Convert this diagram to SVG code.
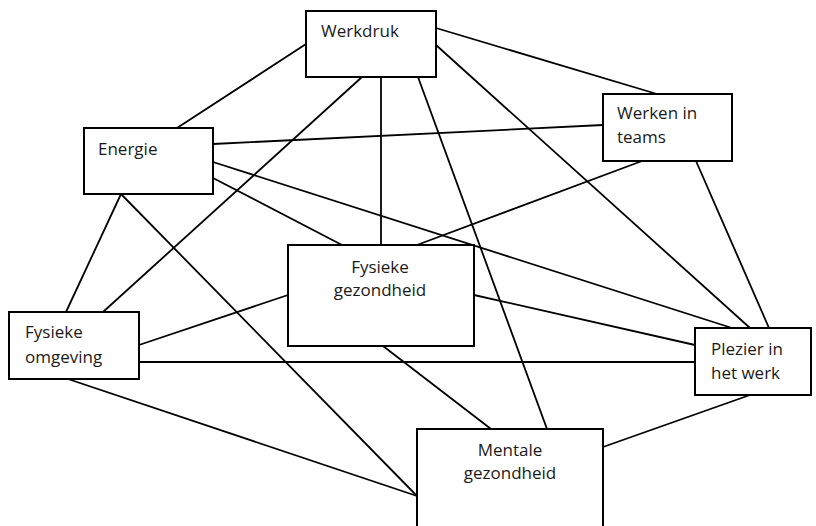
<svg xmlns="http://www.w3.org/2000/svg" width="816" height="526" viewBox="0 0 816 526">
  <style>
    .box { fill: #ffffff; stroke: #000000; stroke-width: 2; }
    .link { stroke: #000000; stroke-width: 1.8; fill: none; }
    .label { font-family: "Open Sans", "Liberation Sans", sans-serif; font-size: 17px; fill: #1a1a1a; }
    .mid { text-anchor: middle; }
  </style>
  <rect width="816" height="526" fill="#ffffff"/>

  <!-- connectors -->
  <g id="connectors">
    <line class="link" x1="306" y1="44" x2="177" y2="128"/>
    <line class="link" x1="436" y1="28" x2="657" y2="94"/>
    <line class="link" x1="362" y1="77" x2="103" y2="312"/>
    <line class="link" x1="381" y1="77" x2="381" y2="245"/>
    <line class="link" x1="418" y1="77" x2="547" y2="429"/>
    <line class="link" x1="436" y1="45" x2="750" y2="328"/>
    <line class="link" x1="213" y1="144" x2="603" y2="125"/>
    <line class="link" x1="213" y1="162" x2="732" y2="328"/>
    <line class="link" x1="213" y1="178" x2="342" y2="245"/>
    <line class="link" x1="121" y1="194" x2="66" y2="312"/>
    <line class="link" x1="121" y1="194" x2="417" y2="496"/>
    <line class="link" x1="642" y1="161" x2="417" y2="245"/>
    <line class="link" x1="696" y1="161" x2="769" y2="328"/>
    <line class="link" x1="288" y1="295" x2="139" y2="345"/>
    <line class="link" x1="474" y1="295" x2="695" y2="345"/>
    <line class="link" x1="383" y1="346" x2="491" y2="429"/>
    <line class="link" x1="139" y1="362" x2="695" y2="362"/>
    <line class="link" x1="68" y1="379" x2="417" y2="496"/>
    <line class="link" x1="750" y1="395" x2="603" y2="447"/>
  </g>

  <g id="werkdruk">
    <rect class="box" x="306" y="11" width="130" height="66"/>
    <text class="label" x="321" y="37">Werkdruk</text>
  </g>

  <g id="energie">
    <rect class="box" x="84" y="128" width="129" height="66"/>
    <text class="label" x="98" y="155">Energie</text>
  </g>

  <g id="werken-in-teams">
    <rect class="box" x="603" y="94" width="129" height="67"/>
    <text class="label" x="617" y="119">Werken in</text>
    <text class="label" x="617" y="143">teams</text>
  </g>

  <g id="fysieke-gezondheid">
    <rect class="box" x="288" y="245" width="186" height="101"/>
    <text class="label mid" x="380" y="273">Fysieke</text>
    <text class="label mid" x="380" y="296">gezondheid</text>
  </g>

  <g id="fysieke-omgeving">
    <rect class="box" x="9" y="312" width="130" height="67"/>
    <text class="label" x="25" y="338">Fysieke</text>
    <text class="label" x="25" y="363">omgeving</text>
  </g>

  <g id="plezier-in-het-werk">
    <rect class="box" x="695" y="328" width="116" height="67"/>
    <text class="label" x="711" y="355">Plezier in</text>
    <text class="label" x="711" y="379">het werk</text>
  </g>

  <g id="mentale-gezondheid">
    <rect class="box" x="417" y="429" width="186" height="104"/>
    <text class="label mid" x="510" y="456">Mentale</text>
    <text class="label mid" x="510" y="479">gezondheid</text>
  </g>
</svg>
